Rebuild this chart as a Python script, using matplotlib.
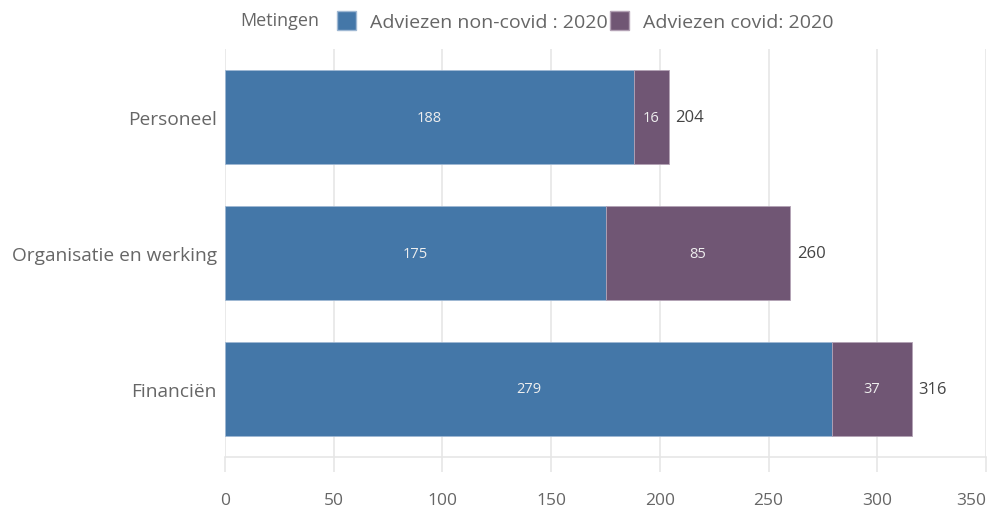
import numpy as np
import matplotlib
matplotlib.use("Agg")
import matplotlib.pyplot as plt
from matplotlib.patches import Patch

categories = ["Personeel", "Organisatie en werking", "Financiën"]
non_covid = [188, 175, 279]
covid = [16, 85, 37]
series_names = ["Adviezen non-covid : 2020", "Adviezen covid: 2020"]
legend_title = "Metingen"
xticks = [0, 50, 100, 150, 200, 250, 300, 350]

blue = "#4477a8"
purple = "#705674"
grey_txt = "#666666"
grid_col = "#e6e6e6"

plt.rcParams["font.family"] = ["Open Sans", "DejaVu Sans"]

fig = plt.figure(figsize=(9.89, 5.10), dpi=100)
ax = fig.add_axes([225/989, 1-458/510, 761/989, 408/510])

y = np.arange(len(categories))
h = 0.69
totals = np.array(non_covid) + np.array(covid)
ax.barh(y, non_covid, height=h, color=blue, edgecolor="#9fb8d3", linewidth=0.6, zorder=3)
ax.barh(y, covid, left=non_covid, height=h, color=purple, edgecolor="#b3a2b5", linewidth=0.6, zorder=3)

for i in range(len(categories)):
    ax.text(non_covid[i] / 2, y[i], str(non_covid[i]), ha="center", va="center",
            color="#eeeeee", fontsize=10.5, zorder=4)
    ax.text(non_covid[i] + covid[i] / 2, y[i], str(covid[i]), ha="center", va="center",
            color="#eeeeee", fontsize=10.5, zorder=4)
    ax.text(totals[i] + 3, y[i], str(totals[i]), ha="left", va="center",
            color="#444444", fontsize=12, zorder=4)

ax.set_xlim(0, 350)
ax.set_ylim(2.5, -0.5)
ax.set_xticks(xticks)
ax.set_xticklabels([str(t) for t in xticks])
ax.set_yticks(y)
ax.set_yticklabels(categories)
ax.grid(axis="x", color=grid_col, linewidth=1.2, zorder=0)
for s in ["top", "right", "left"]:
    ax.spines[s].set_visible(False)
ax.spines["bottom"].set_color(grid_col)
ax.spines["bottom"].set_linewidth(1.2)
ax.tick_params(axis="x", length=10.5, width=1.2, color=grid_col, pad=15,
               labelsize=12.5, labelcolor=grey_txt)
ax.tick_params(axis="y", length=0, pad=6, labelsize=13.8, labelcolor=grey_txt)
# last tick label kept inside the figure, as in the original
ax.get_xticklabels()[-1].set_horizontalalignment("right")
ax.get_xticklabels()[-1].set_x(351)

fig.text(240/989, 1-21/510, legend_title, ha="left", va="center", fontsize=13, color=grey_txt)
handles = [Patch(facecolor=blue, edgecolor="#9fb8d3"), Patch(facecolor=purple, edgecolor="#b3a2b5")]
fig.legend(handles, series_names, loc="center left", bbox_to_anchor=(337/989, 1-22/510),
           ncol=2, frameon=False, fontsize=14, labelcolor=grey_txt,
           handlelength=1.0, handleheight=1.15, handletextpad=0.7, columnspacing=0.1,
           borderpad=0, borderaxespad=0)

fig.savefig("out.png", dpi=100)
